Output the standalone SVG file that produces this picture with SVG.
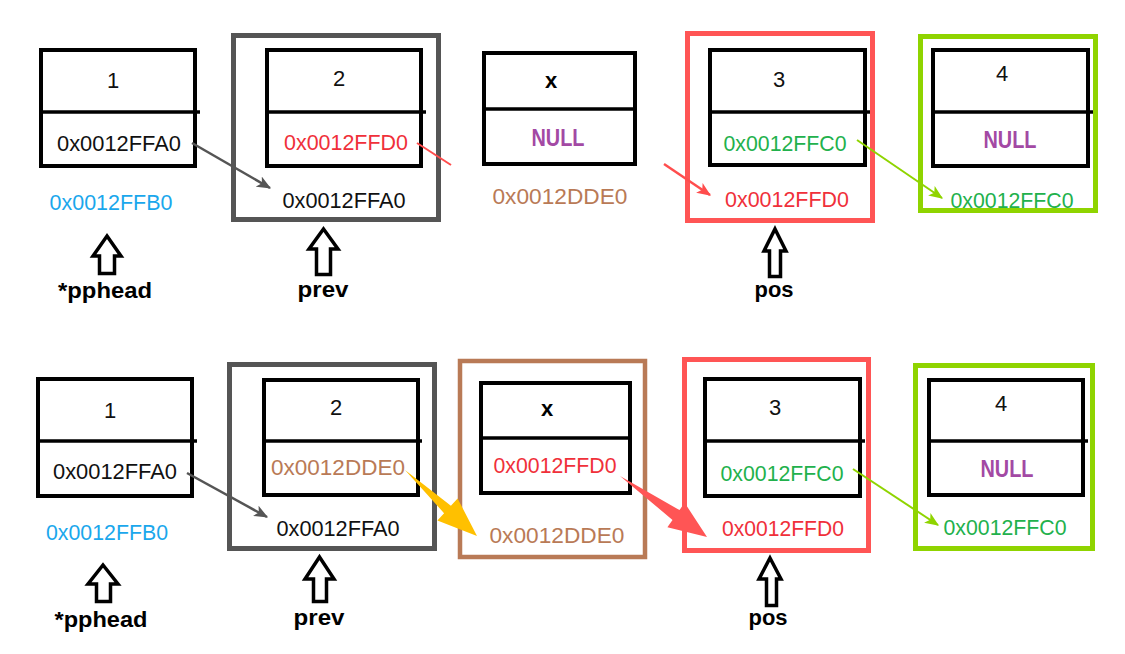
<svg xmlns="http://www.w3.org/2000/svg" width="1125" height="654" viewBox="0 0 1125 654">
<defs>
<style>
.bg{fill:#ffffff}
.node{fill:#ffffff;stroke:#000;stroke-width:4}
.div{stroke:#000;stroke-width:3.5}
.t{font-family:"Liberation Sans",Arial,sans-serif;font-size:22px;text-anchor:middle}
.n{font-family:"Liberation Sans",Arial,sans-serif;font-size:22px;text-anchor:middle;fill:#111}
.b{font-family:"Liberation Sans",Arial,sans-serif;font-size:22px;font-weight:bold;text-anchor:middle;fill:#000}
.null{font-family:"Liberation Sans",Arial,sans-serif;font-size:24px;font-weight:bold;text-anchor:middle;fill:#a349a4}
.blk{fill:#111}
.blue{fill:#1aa7ec}
.red{fill:#f0303a}
.green{fill:#22b14c}
.brown{fill:#b97a56}
.up{fill:#fff;stroke:#000;stroke-width:3.5;stroke-linejoin:miter}
.gray{fill:none;stroke:#555;stroke-width:5}
.redbox{fill:none;stroke:#ff5555;stroke-width:5}
.greenbox{fill:none;stroke:#8fd400;stroke-width:5}
.brownbox{fill:none;stroke:#b97a56;stroke-width:4.5}
</style>
<marker id="mg" viewBox="0 0 12 10" refX="11" refY="5" markerWidth="14" markerHeight="12" markerUnits="userSpaceOnUse" orient="auto"><path d="M0,0 L12,5 L0,10 L3,5 z" fill="#555"/></marker>
<marker id="mr" viewBox="0 0 12 10" refX="11" refY="5" markerWidth="14" markerHeight="12" markerUnits="userSpaceOnUse" orient="auto"><path d="M0,0 L12,5 L0,10 L3,5 z" fill="#ff4d4d"/></marker>
<marker id="mgr" viewBox="0 0 12 10" refX="11" refY="5" markerWidth="14" markerHeight="12" markerUnits="userSpaceOnUse" orient="auto"><path d="M0,0 L12,5 L0,10 L3,5 z" fill="#8fd400"/></marker>
</defs>
<rect class="bg" x="0" y="0" width="1125" height="654"/>

<!-- ===== TOP ROW ===== -->
<g id="top-prev-box"><rect class="gray" x="233.5" y="35.5" width="205" height="184"/></g>
<g id="top-pos-box"><rect class="redbox" x="687.5" y="33.5" width="185" height="187"/></g>
<g id="top-next-box"><rect class="greenbox" x="920.5" y="36.5" width="175" height="174"/></g>

<g id="top-n1">
<rect class="node" x="41" y="50" width="154" height="116"/>
<line class="div" x1="41" y1="112" x2="200" y2="112"/>
<text class="n" x="113" y="88">1</text>
<text class="t blk" x="119" y="151" textLength="124" lengthAdjust="spacingAndGlyphs">0x0012FFA0</text>
<text class="t blue" x="111" y="210" textLength="123" lengthAdjust="spacingAndGlyphs">0x0012FFB0</text>
</g>
<g id="top-n2">
<rect class="node" x="267" y="50" width="154" height="116"/>
<line class="div" x1="267" y1="112" x2="426" y2="112"/>
<text class="n" x="339" y="86">2</text>
<text class="t red" x="346" y="150" textLength="124" lengthAdjust="spacingAndGlyphs">0x0012FFD0</text>
<text class="t blk" x="344" y="208" textLength="123" lengthAdjust="spacingAndGlyphs">0x0012FFA0</text>
</g>
<g id="top-nx">
<rect class="node" x="484" y="53" width="151" height="111"/>
<line class="div" x1="484" y1="109" x2="635" y2="109"/>
<text class="b" x="551" y="88">x</text>
<text class="null" x="558" y="146" textLength="53" lengthAdjust="spacingAndGlyphs">NULL</text>
<text class="t brown" x="560" y="204" textLength="135" lengthAdjust="spacingAndGlyphs">0x0012DDE0</text>
</g>
<g id="top-n3">
<rect class="node" x="710" y="50" width="155" height="115"/>
<line class="div" x1="710" y1="112" x2="870" y2="112"/>
<text class="n" x="779" y="87">3</text>
<text class="t green" x="785" y="151" textLength="123" lengthAdjust="spacingAndGlyphs">0x0012FFC0</text>
<text class="t red" x="787" y="207" textLength="124" lengthAdjust="spacingAndGlyphs">0x0012FFD0</text>
</g>
<g id="top-n4">
<rect class="node" x="933" y="50" width="155" height="116"/>
<line class="div" x1="933" y1="112" x2="1093" y2="112"/>
<text class="n" x="1002" y="81">4</text>
<text class="null" x="1010" y="148" textLength="53" lengthAdjust="spacingAndGlyphs">NULL</text>
<text class="t green" x="1012" y="208" textLength="123" lengthAdjust="spacingAndGlyphs">0x0012FFC0</text>
</g>

<g id="top-pphead">
<path class="up" d="M107,236 L121,256 L114.5,256 L114.5,273.5 L99.5,273.5 L99.5,256 L93,256 Z"/>
<text class="b" x="105" y="298" textLength="94" lengthAdjust="spacingAndGlyphs">*pphead</text>
</g>
<g id="top-prevptr">
<path class="up" d="M323.5,229 L338,249 L330.5,249 L330.5,274.5 L316.5,274.5 L316.5,249 L309,249 Z"/>
<text class="b" x="323" y="297" textLength="51" lengthAdjust="spacingAndGlyphs">prev</text>
</g>
<g id="top-posptr">
<path class="up" d="M775,229 L786,251 L780.5,251 L780.5,276.5 L769.5,276.5 L769.5,251 L764,251 Z"/>
<text class="b" x="774" y="297" textLength="39" lengthAdjust="spacingAndGlyphs">pos</text>
</g>

<!-- ===== BOTTOM ROW ===== -->
<g id="bot-prev-box"><rect class="gray" x="229.5" y="364.5" width="205" height="184"/></g>
<g id="bot-x-box"><rect class="brownbox" x="460" y="361" width="185" height="196"/></g>
<g id="bot-pos-box"><rect class="redbox" x="684.5" y="359.5" width="184" height="191"/></g>
<g id="bot-next-box"><rect class="greenbox" x="915.5" y="365.5" width="177" height="183"/></g>

<g id="bot-n1">
<rect class="node" x="38" y="379" width="154" height="117"/>
<line class="div" x1="38" y1="441" x2="197" y2="441"/>
<text class="n" x="110" y="418">1</text>
<text class="t blk" x="115" y="479" textLength="124" lengthAdjust="spacingAndGlyphs">0x0012FFA0</text>
<text class="t blue" x="107" y="540" textLength="122" lengthAdjust="spacingAndGlyphs">0x0012FFB0</text>
</g>
<g id="bot-n2">
<rect class="node" x="264" y="380" width="154" height="115"/>
<line class="div" x1="264" y1="441" x2="422" y2="441"/>
<text class="n" x="336" y="415">2</text>
<text class="t brown" x="338" y="475" textLength="134" lengthAdjust="spacingAndGlyphs">0x0012DDE0</text>
<text class="t blk" x="338" y="536" textLength="123" lengthAdjust="spacingAndGlyphs">0x0012FFA0</text>
</g>
<g id="bot-nx">
<rect class="node" x="481" y="383" width="149" height="110"/>
<line class="div" x1="481" y1="438" x2="630" y2="438"/>
<text class="b" x="547" y="416">x</text>
<text class="t red" x="555" y="473" textLength="123" lengthAdjust="spacingAndGlyphs">0x0012FFD0</text>
<text class="t brown" x="557" y="543" textLength="135" lengthAdjust="spacingAndGlyphs">0x0012DDE0</text>
</g>
<g id="bot-n3">
<rect class="node" x="705" y="379" width="155" height="117"/>
<line class="div" x1="705" y1="441" x2="865" y2="441"/>
<text class="n" x="775" y="415">3</text>
<text class="t green" x="782" y="481" textLength="123" lengthAdjust="spacingAndGlyphs">0x0012FFC0</text>
<text class="t red" x="783" y="536" textLength="122" lengthAdjust="spacingAndGlyphs">0x0012FFD0</text>
</g>
<g id="bot-n4">
<rect class="node" x="929" y="380" width="154" height="115"/>
<line class="div" x1="929" y1="441" x2="1088" y2="441"/>
<text class="n" x="1001" y="411">4</text>
<text class="null" x="1007" y="477" textLength="53" lengthAdjust="spacingAndGlyphs">NULL</text>
<text class="t green" x="1005" y="535" textLength="123" lengthAdjust="spacingAndGlyphs">0x0012FFC0</text>
</g>

<g id="bot-pphead">
<path class="up" d="M103,565 L118,584 L110.5,584 L110.5,601.5 L96.5,601.5 L96.5,584 L88,584 Z"/>
<text class="b" x="101" y="627" textLength="93" lengthAdjust="spacingAndGlyphs">*pphead</text>
</g>
<g id="bot-prevptr">
<path class="up" d="M319.5,557 L334,579 L326.5,579 L326.5,601.5 L313.5,601.5 L313.5,579 L305,579 Z"/>
<text class="b" x="319" y="625" textLength="51" lengthAdjust="spacingAndGlyphs">prev</text>
</g>
<g id="bot-posptr">
<path class="up" d="M770,558 L781,579 L776.5,579 L776.5,605.5 L766.5,605.5 L766.5,579 L759,579 Z"/>
<text class="b" x="768" y="625" textLength="39" lengthAdjust="spacingAndGlyphs">pos</text>
</g>

<!-- ===== CONNECTORS ===== -->
<g id="connectors">
<line x1="192" y1="143" x2="270" y2="188" stroke="#555" stroke-width="2.5" marker-end="url(#mg)"/>
<line x1="417" y1="143" x2="451" y2="165" stroke="#ff4d4d" stroke-width="2"/>
<line x1="664" y1="164" x2="710" y2="195" stroke="#ff4d4d" stroke-width="2.5" marker-end="url(#mr)"/>
<line x1="857" y1="140" x2="942" y2="198" stroke="#8fd400" stroke-width="2" marker-end="url(#mgr)"/>
<line x1="187" y1="473" x2="267" y2="517" stroke="#555" stroke-width="2.5" marker-end="url(#mg)"/>
<line x1="853" y1="469" x2="938" y2="525" stroke="#8fd400" stroke-width="2" marker-end="url(#mgr)"/>
<polygon fill="#ffc000" points="405,470 450.9,505.8 457.6,498.4 477,536 437.4,520.6 444.1,513.2"/>
<polygon fill="#ff5555" points="620,476 679.5,510.1 684.6,502.7 707,537 667.4,527.3 672.5,519.9"/>
</g>
</svg>
